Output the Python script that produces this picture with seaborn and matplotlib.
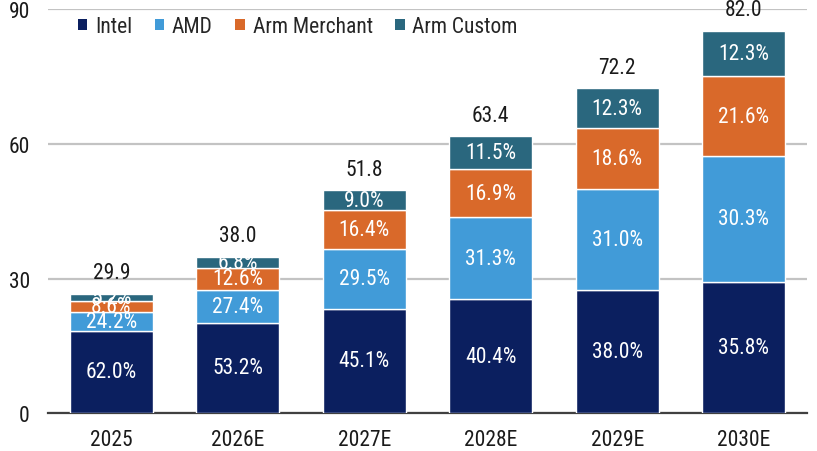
import matplotlib
matplotlib.use('Agg')
import matplotlib.pyplot as plt
import seaborn as sns
import numpy as np
from matplotlib.patches import Patch

# x categories and the totals printed above each bar
years = ['2025', '2026E', '2027E', '2028E', '2029E', '2030E']
totals = [29.9, 38.0, 51.8, 63.4, 72.2, 82.0]

# segment heights as drawn in the chart
intel = [18.4, 20.2, 23.3, 25.5, 27.4, 29.3]
amd = [4.2, 7.3, 13.2, 18.1, 22.5, 27.9]
arm_merchant = [2.5, 4.9, 8.7, 10.7, 13.6, 17.9]
arm_custom = [1.5, 2.5, 4.4, 7.4, 8.9, 10.1]

# share labels printed inside the segments
intel_pct = [62.0, 53.2, 45.1, 40.4, 38.0, 35.8]
amd_pct = [24.2, 27.4, 29.5, 31.3, 31.0, 30.3]
merchant_pct = [8.6, 12.6, 16.4, 16.9, 18.6, 21.6]
custom_pct = [5.2, 6.8, 9.0, 11.5, 12.3, 12.3]

series = [
    ('Intel', intel, intel_pct, '#0b1f5f'),
    ('AMD', amd, amd_pct, '#419bd8'),
    ('Arm Merchant', arm_merchant, merchant_pct, '#d9692a'),
    ('Arm Custom', arm_custom, custom_pct, '#2a677e'),
]

sns.set_style('white')
plt.rcParams['font.family'] = ['Roboto Condensed', 'DejaVu Sans']
plt.rcParams['font.stretch'] = 'condensed'
FS = 15.5

fig = plt.figure(figsize=(8.17, 4.52), dpi=100)
ax = fig.add_axes([0.0588, 0.0834, 0.929, 0.8946])

bottom = np.zeros(len(years))
handles = []
for name, vals, pcts, col in series:
    sns.barplot(x=years, y=vals, order=years, bottom=bottom, color=col,
                saturation=1, width=0.655, edgecolor='white', linewidth=1.0,
                errorbar=None, ax=ax, zorder=3)
    cont = ax.containers[-1]
    # small 2025 segments overlap in the original too
    ax.bar_label(cont, labels=[f'{p:.1f}%' for p in pcts], label_type='center',
                 color='white', fontsize=FS, zorder=4)
    handles.append(Patch(facecolor=col, edgecolor='none', label=name))
    bottom = bottom + np.array(vals)

for i, t in enumerate(totals):
    ax.annotate(f'{t:.1f}', xy=(i, bottom[i]), xytext=(0, 21),
                textcoords='offset pixels', ha='center', va='center',
                fontsize=FS, color='#1a1a1a')

ax.set_xlim(-0.5, 5.5)
ax.set_ylim(0, 90)
ax.set_yticks([0, 30, 60, 90])
ax.yaxis.grid(True, color='#c3c3c3', linewidth=1.6, zorder=0)
ax.set_axisbelow(True)
ax.set_xlabel('')
ax.set_ylabel('')
for s in ['top', 'right', 'left']:
    ax.spines[s].set_visible(False)
ax.spines['bottom'].set_color('#404040')
ax.spines['bottom'].set_linewidth(1.6)
ax.tick_params(axis='both', length=0, labelsize=FS, colors='#1a1a1a')
ax.tick_params(axis='y', pad=13)
ax.tick_params(axis='x', pad=11)

ax.legend(handles=handles, loc='center left', bbox_to_anchor=(0.039, 0.956),
          ncol=4, frameon=False, fontsize=FS, borderpad=0, borderaxespad=0,
          handlelength=0.45, handleheight=0.45, handletextpad=0.35,
          columnspacing=1.05)

fig.savefig('out.png', dpi=100)
